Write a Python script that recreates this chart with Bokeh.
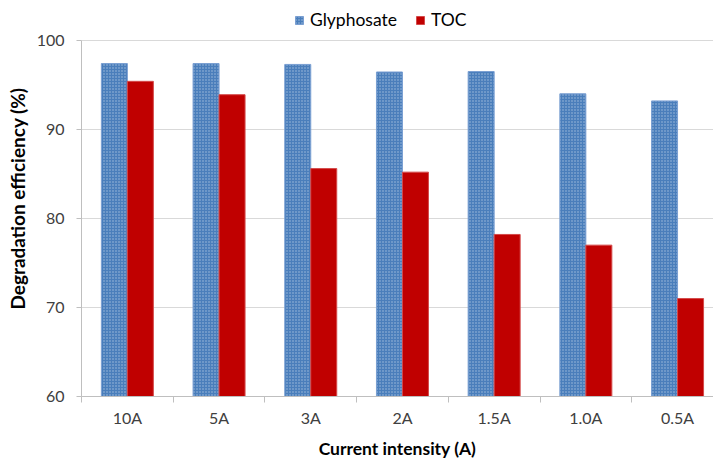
import numpy as np
from bokeh.plotting import figure
from bokeh.models import (ColumnDataSource, Range1d, FixedTicker, Legend, LegendItem)
from bokeh.transform import dodge
from bokeh.embed import file_html
from bokeh.resources import INLINE

categories = ["10A", "5A", "3A", "2A", "1.5A", "1.0A", "0.5A"]
glyphosate = [97.4, 97.4, 97.3, 96.45, 96.5, 94.0, 93.2]
toc = [95.4, 93.9, 85.6, 85.2, 78.2, 77.0, 71.0]
y_ticks = [60, 70, 80, 90, 100]

FONT = "Lato"
n = len(categories)
centers = list(np.arange(n) + 0.5)
src = ColumnDataSource(dict(x=centers, cat=categories, g=glyphosate, t=toc))

# frame spans the full height above the x axis; the value axis itself is bounded to 60-100
p = figure(width=713, height=461, output_backend="svg", toolbar_location=None,
           x_range=Range1d(0, 6.892), y_range=Range1d(60, 104.48),
           min_border_left=81, min_border_right=0, min_border_top=0, min_border_bottom=64)
p.outline_line_color = None
p.background_fill_color = "white"

bw = 0.2835
r1 = p.vbar(x=dodge("x", -bw / 2, range=p.x_range), top="g", bottom=60, width=bw, source=src,
            fill_color="#4a7ebb", line_color="#7a9fd2", line_width=1,
            hatch_pattern="dot", hatch_color="white", hatch_alpha=0.5, hatch_scale=3, hatch_weight=1)
r2 = p.vbar(x=dodge("x", bw / 2, range=p.x_range), top="t", bottom=60, width=bw, source=src,
            fill_color="#c00000", line_color="#d44a4a", line_width=1)

# x axis: labels at category centres, tick marks at category boundaries
p.xaxis.ticker = FixedTicker(ticks=centers, minor_ticks=list(range(n + 1)))
p.xaxis.major_label_overrides = {c: lab for c, lab in zip(centers, categories)}
p.xaxis.major_tick_line_color = None
p.xaxis.major_tick_out = 0
p.xaxis.major_tick_in = 0
p.xaxis.minor_tick_line_color = "#bfbfbf"
p.xaxis.minor_tick_out = 6
p.xaxis.minor_tick_in = 0
p.xaxis.axis_line_color = "#bfbfbf"
p.xaxis.major_label_standoff = 5
p.xaxis.axis_label = "Current intensity (A)"
p.xaxis.axis_label_standoff = 8

p.yaxis.ticker = FixedTicker(ticks=y_ticks)
p.yaxis.bounds = (min(y_ticks), max(y_ticks))
p.yaxis.minor_tick_line_color = None
p.yaxis.major_tick_out = 5
p.yaxis.major_tick_in = 0
p.yaxis.major_tick_line_color = "#bfbfbf"
p.yaxis.axis_line_color = "#bfbfbf"
p.yaxis.major_label_standoff = 12
p.yaxis.axis_label = "Degradation efficiency (%)"
p.yaxis.axis_label_standoff = 5

for ax in (p.xaxis, p.yaxis):
    ax.major_label_text_font = FONT
    ax.major_label_text_font_size = "16px"
    ax.major_label_text_color = "#404040"
    ax.axis_label_text_font = FONT
    ax.axis_label_text_font_style = "bold"
    ax.axis_label_text_color = "#000000"
p.xaxis.axis_label_text_font_size = "17.5px"
p.yaxis.axis_label_text_font_size = "19px"

p.xgrid.grid_line_color = None
p.ygrid.ticker = FixedTicker(ticks=y_ticks)
p.ygrid.grid_line_color = "#d9d9d9"
p.ygrid.grid_line_width = 1

legend = Legend(items=[LegendItem(label="Glyphosate", renderers=[r1]),
                       LegendItem(label="TOC", renderers=[r2])],
                orientation="horizontal", location=(213, 366),
                glyph_width=10, glyph_height=10, label_text_font=FONT,
                label_text_font_size="17.5px", label_text_color="#000000",
                spacing=18, padding=0, margin=0, border_line_color=None,
                background_fill_alpha=0, label_standoff=6)
p.add_layout(legend, "center")

open("out.html", "w").write(file_html(p, INLINE))
